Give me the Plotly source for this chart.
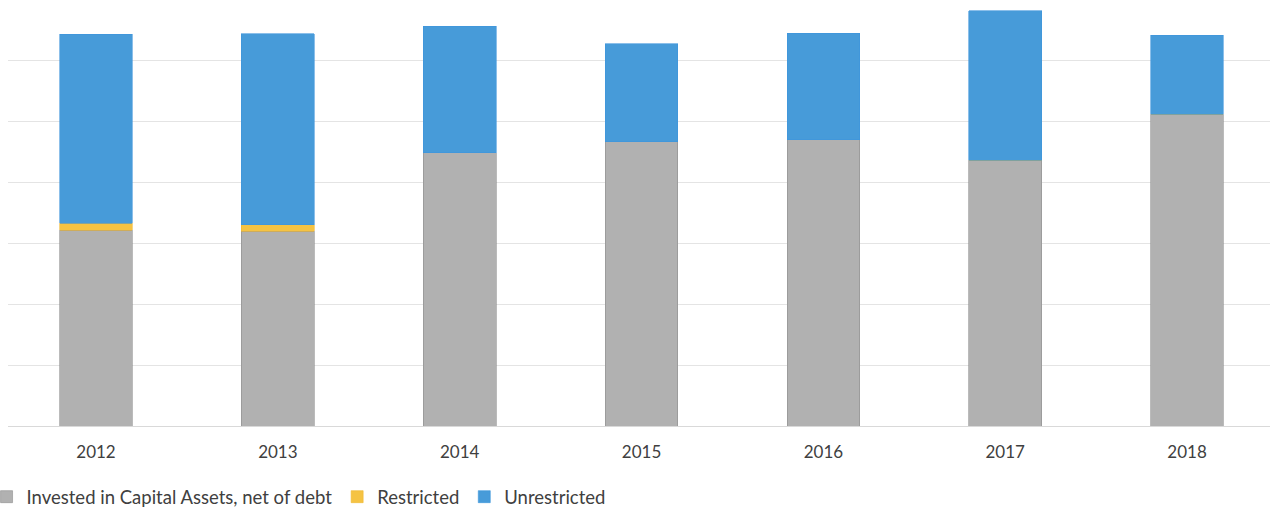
import plotly.graph_objects as go

# Net position by fiscal year (in $ millions)
years = ["2012", "2013", "2014", "2015", "2016", "2017", "2018"]
invested = [32.1, 31.9, 44.8, 46.6, 46.9, 43.6, 51.1]
restricted = [1.1, 1.1, 0.0, 0.0, 0.0, 0.0, 0.0]
unrestricted = [31.0, 31.3, 20.7, 16.1, 17.5, 24.5, 13.0]

series_names = ["Invested in Capital Assets, net of debt", "Restricted", "Unrestricted"]
series_colors = ["#b1b1b1", "#f5c343", "#479bd9"]
edge_colors = ["#8e8e8e", "#f0b830", "#3d95dc"]

font_family = "Lato, 'Open Sans', sans-serif"

fig = go.Figure()
for name, vals, color, edge in zip(series_names, [invested, restricted, unrestricted], series_colors, edge_colors):
    fig.add_trace(go.Bar(
        x=years, y=vals, name=name, width=0.4,
        marker=dict(color=color, line=dict(color=edge, width=0.6)),
    ))

fig.update_layout(
    barmode="stack",
    width=1270, height=510,
    margin=dict(l=8, r=0, t=0, b=84, autoexpand=False),
    paper_bgcolor="white", plot_bgcolor="white",
    font=dict(family=font_family, size=17, color="#404040"),
    showlegend=True,
    legend=dict(
        orientation="h", x=-0.017, xanchor="left", y=-0.167, yanchor="middle",
        font=dict(size=18.5, color="#404040"), traceorder="normal",
        itemclick=False,
    ),
    xaxis=dict(
        range=[-0.484, 6.456], showgrid=False, showline=False, zeroline=False,
        ticks="", ticklabelstandoff=14, tickfont=dict(size=17, color="#404040"),
    ),
    yaxis=dict(
        range=[0, 69.84], dtick=10, showticklabels=False, showgrid=True,
        gridcolor="#e4e4e4", gridwidth=1, zeroline=True, zerolinecolor="#d9d9d9",
        zerolinewidth=1, showline=False,
    ),
)

fig.write_html("out.html")
